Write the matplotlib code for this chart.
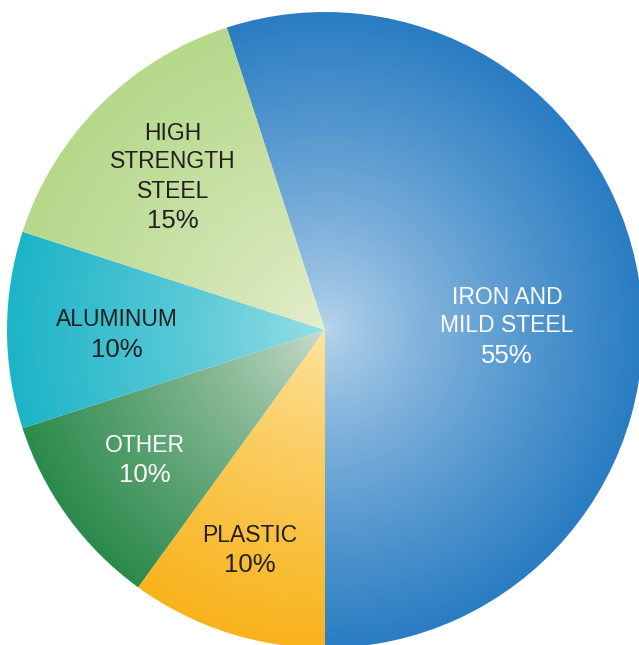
import numpy as np
import matplotlib.pyplot as plt
from matplotlib.colors import LinearSegmentedColormap

plt.rcParams['font.family'] = ['Liberation Sans', 'DejaVu Sans']

labels = ['IRON AND\nMILD STEEL', 'PLASTIC', 'OTHER', 'ALUMINUM', 'HIGH\nSTRENGTH\nSTEEL']
shares = [55, 10, 10, 10, 15]

# inner (centre) and outer (rim) colour of each slice
inner = ['#b9d6ed', '#fde6a4', '#d0dfd1', '#9ce0e7', '#e6efd0']
outer = ['#2a7dc2', '#f8b31c', '#2c8a4c', '#1db4c7', '#b5d88a']
text_col = ['white', '#231f20', 'white', '#231f20', '#231f20']
# centre of the first text line, in pixels (x, y from top)
label_px = [(507, 297), (250, 535), (145, 445), (117, 320), (173, 133)]

W, H = 639, 645
R = 318.0
cx, cy = 325, 330

fig = plt.figure(figsize=(W / 100, H / 100), dpi=100)
ax = fig.add_axes([0, 0, 1, 1])

wedges, _ = ax.pie(shares, startangle=108, counterclock=False, radius=1,
                   center=(0, 0), wedgeprops=dict(linewidth=0))

n = 700
xx, yy = np.meshgrid(np.linspace(-1, 1, n), np.linspace(-1, 1, n))
rr = np.clip(np.hypot(xx, yy), 0, 1)

for i, w in enumerate(wedges):
    w.set_facecolor('none')
    cmap = LinearSegmentedColormap.from_list('g%d' % i, [inner[i], outer[i]])
    im = ax.imshow(rr ** 0.8, cmap=cmap, vmin=0, vmax=1, extent=(-1, 1, -1, 1),
                   origin='lower', interpolation='bilinear', zorder=1)
    im.set_clip_path(w)

for i in range(len(labels)):
    px, py = label_px[i]
    lines = labels[i].split('\n') + ['%d%%' % shares[i]]
    for k, s in enumerate(lines):
        last = k == len(lines) - 1
        ypix = py + 29 * k + (1 if last else 0)
        ax.text((px - cx) / R, (cy - ypix) / R, s, ha='center', va='center',
                fontsize=18.5 if last else 16.5, color=text_col[i], zorder=3)

ax.set_xlim(-cx / R, (W - cx) / R)
ax.set_ylim(-(H - cy) / R, cy / R)
ax.set_aspect('equal')
ax.axis('off')
plt.savefig('out.png', dpi=100)
